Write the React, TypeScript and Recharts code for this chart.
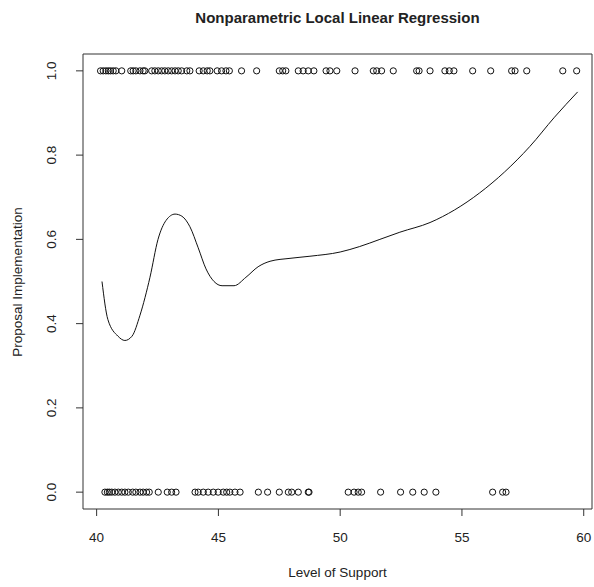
import React from "react";
import { ComposedChart, XAxis, YAxis, Scatter, Line, ReferenceArea } from "recharts";

const xTicks = [40, 45, 50, 55, 60];
const yTicks = [0, 0.2, 0.4, 0.6, 0.8, 1.0];

const supportImplemented = [
  40.16, 40.27, 40.38, 40.48, 40.57, 40.68, 40.79, 41.03, 41.4, 41.5, 41.61, 41.78, 41.91, 41.98,
  42.26, 42.39, 42.53, 42.67, 42.8, 42.94, 43.08, 43.22, 43.35, 43.49, 43.7, 43.83, 44.21, 44.38,
  44.54, 44.65, 44.95, 45.13, 45.31, 45.45, 45.95, 46.57, 47.5, 47.64, 47.77, 48.28, 48.48, 48.69,
  48.92, 49.42, 49.58, 49.86, 50.61, 51.36, 51.5, 51.7, 52.18, 53.14, 53.24, 53.69, 54.3, 54.48,
  54.67, 55.44, 56.18, 57.04, 57.18, 57.66, 59.14, 59.71,
];

const supportNotImplemented = [
  40.34, 40.44, 40.52, 40.62, 40.75, 40.89, 41.03, 41.16, 41.3, 41.48, 41.61, 41.78, 41.91, 42.05,
  42.16, 42.53, 42.9, 43.08, 43.26, 44.04, 44.17, 44.38, 44.58, 44.79, 44.99, 45.2, 45.34, 45.47,
  45.68, 45.89, 46.64, 47.02, 47.5, 47.87, 48.01, 48.28, 48.69, 48.72, 50.33, 50.57, 50.74, 50.88,
  51.66, 52.48, 52.98, 53.45, 53.93, 56.26, 56.67, 56.81,
];

const curveX = [
  40.22, 40.46, 40.88, 41.16, 41.45, 41.78, 42.19, 42.52, 42.85, 43.22, 43.5, 43.83, 44.17, 44.49,
  44.82, 45.15, 45.64, 46.13, 46.63, 47.12, 47.94, 48.76, 50.0, 50.8, 51.63, 52.45, 53.69, 54.7,
  55.72, 56.75, 57.78, 58.8, 59.75,
];
const curveY = [
  0.5, 0.41, 0.37, 0.36, 0.37, 0.42, 0.51, 0.6, 0.645, 0.66, 0.655, 0.63, 0.58, 0.53, 0.5, 0.49,
  0.49, 0.51, 0.535, 0.548, 0.555, 0.56, 0.57, 0.583, 0.6, 0.617, 0.64, 0.67, 0.71, 0.76, 0.82,
  0.89, 0.95,
];

const ones = supportImplemented.map((x) => ({ x, y: 1 }));
const zeros = supportNotImplemented.map((x) => ({ x, y: 0 }));
const curve = curveX.map((x, i) => ({ x, y: curveY[i] }));

const X_DOMAIN: [number, number] = [39.44, 60.34];
const Y_DOMAIN: [number, number] = [-0.04, 1.04];
const FONT = "'Liberation Sans', Arial, sans-serif";
const INK = "#222";

const OpenCircle = (props: any) => (
  <circle cx={props.cx} cy={props.cy} r={3.1} fill="none" stroke="#111" strokeWidth={1} />
);

const XTick = (props: any) => (
  <text x={props.x} y={props.y} dy="0.71em" textAnchor="middle" fontFamily={FONT} fontSize={13.5} fill={INK}>
    {props.payload.value}
  </text>
);

const YTick = (props: any) => {
  const cx = props.x - 10;
  return (
    <text
      x={cx}
      y={props.y}
      textAnchor="middle"
      dominantBaseline="central"
      transform={`rotate(-90, ${cx}, ${props.y})`}
      fontFamily={FONT}
      fontSize={13.5}
      fill={INK}
    >
      {Number(props.payload.value).toFixed(1)}
    </text>
  );
};

export default function App() {
  return (
    <div style={{ position: "absolute", left: 0, top: 0, width: 594, height: 587, background: "#fff" }}>
      <div
        style={{
          position: "absolute",
          left: 83,
          width: 509,
          top: 8,
          textAlign: "center",
          fontFamily: FONT,
          fontWeight: "bold",
          fontSize: 15,
          color: INK,
          lineHeight: "20px",
        }}
      >
        Nonparametric Local Linear Regression
      </div>
      <div
        style={{
          position: "absolute",
          left: 83,
          width: 509,
          top: 564,
          textAlign: "center",
          fontFamily: FONT,
          fontSize: 13.5,
          color: INK,
          lineHeight: "18px",
        }}
      >
        Level of Support
      </div>
      <div
        style={{
          position: "absolute",
          left: 18 - 150,
          top: 281.5 - 9,
          width: 300,
          textAlign: "center",
          fontFamily: FONT,
          fontSize: 13.5,
          color: INK,
          lineHeight: "18px",
          transform: "rotate(-90deg)",
        }}
      >
        Proposal Implementation
      </div>
      <ComposedChart width={594} height={587} margin={{ top: 54, right: 2, bottom: 38, left: 23 }}>
        <XAxis
          type="number"
          dataKey="x"
          domain={X_DOMAIN}
          ticks={xTicks}
          allowDataOverflow
          height={40}
          axisLine={false}
          tickSize={7}
          tickMargin={16}
          tickLine={{ stroke: "#333" }}
          tick={<XTick />}
          interval={0}
        />
        <YAxis
          type="number"
          dataKey="y"
          domain={Y_DOMAIN}
          ticks={yTicks}
          allowDataOverflow
          width={60}
          axisLine={false}
          tickSize={7}
          tickMargin={14}
          tickLine={{ stroke: "#333" }}
          tick={<YTick />}
          interval={0}
        />
        <ReferenceArea
          x1={X_DOMAIN[0]}
          x2={X_DOMAIN[1]}
          y1={Y_DOMAIN[0]}
          y2={Y_DOMAIN[1]}
          fill="none"
          stroke="#333"
          strokeWidth={1}
          ifOverflow="visible"
        />
        <Scatter data={ones} shape={<OpenCircle />} isAnimationActive={false} />
        <Scatter data={zeros} shape={<OpenCircle />} isAnimationActive={false} />
        <Line
          data={curve}
          dataKey="y"
          type="monotone"
          dot={false}
          stroke="#111"
          strokeWidth={1}
          isAnimationActive={false}
          activeDot={false}
        />
      </ComposedChart>
    </div>
  );
}
